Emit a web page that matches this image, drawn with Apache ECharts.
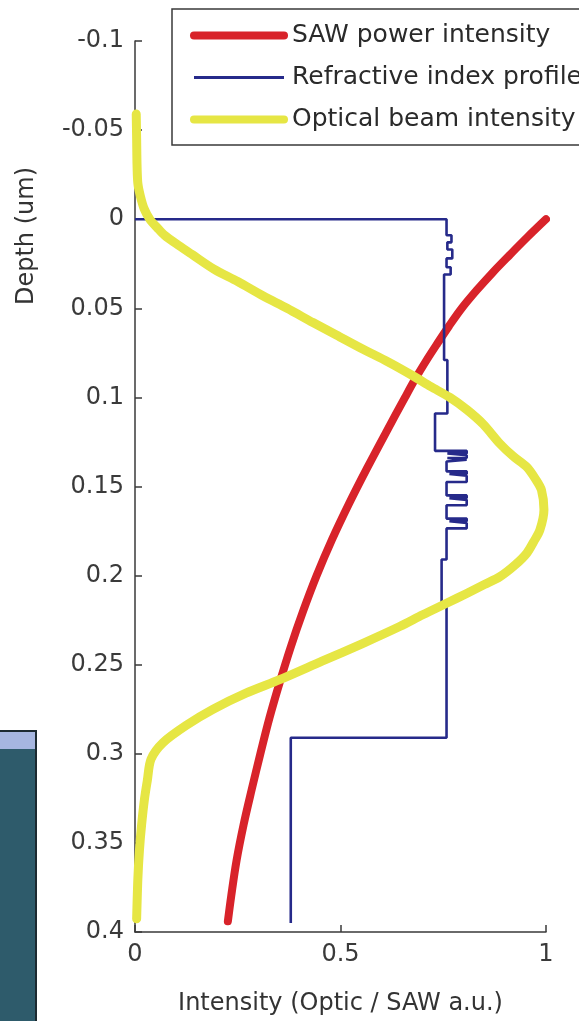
<!DOCTYPE html>
<html>
<head>
<meta charset="utf-8">
<title>Depth profile</title>
<script src="https://cdn.jsdelivr.net/npm/echarts@6/dist/echarts.min.js"></script>
<style>
  html, body { margin: 0; padding: 0; background: #ffffff; }
  #chart { width: 579px; height: 1021px; }
</style>
</head>
<body>
<div id="chart"></div>
<script>
// SAW power intensity versus depth (um)
const sawDepth = [0, 0.01, 0.02, 0.03, 0.04, 0.05, 0.06, 0.07, 0.08, 0.09, 0.10, 0.12, 0.14, 0.16, 0.18, 0.20, 0.22, 0.24, 0.26, 0.28, 0.30, 0.32, 0.34, 0.36, 0.38, 0.394];
const sawIntensity = [1.0, 0.955, 0.912, 0.870, 0.831, 0.795, 0.764, 0.735, 0.707, 0.681, 0.657, 0.610, 0.564, 0.520, 0.479, 0.442, 0.409, 0.379, 0.352, 0.327, 0.305, 0.284, 0.264, 0.247, 0.234, 0.226];

// Optical beam intensity versus depth (um)
const opticalDepth = [-0.059, -0.045, -0.03, -0.02, -0.013, -0.006, 0.0, 0.005, 0.009, 0.015, 0.02, 0.028, 0.035, 0.043, 0.05, 0.058, 0.065, 0.073, 0.08, 0.088, 0.094, 0.1, 0.107, 0.115, 0.126, 0.133, 0.139, 0.146, 0.152, 0.163, 0.1745, 0.181, 0.1875, 0.194, 0.2006, 0.205, 0.21, 0.2155, 0.222, 0.2286, 0.238, 0.248, 0.2584, 0.266, 0.275, 0.284, 0.2938, 0.303, 0.315, 0.3255, 0.34, 0.3535, 0.37, 0.3926];
const opticalIntensity = [0.003, 0.004, 0.005, 0.007, 0.013, 0.022, 0.036, 0.055, 0.072, 0.108, 0.140, 0.192, 0.25, 0.311, 0.37, 0.433, 0.49, 0.555, 0.615, 0.677, 0.72, 0.766, 0.808, 0.847, 0.888, 0.92, 0.953, 0.975, 0.989, 0.995, 0.985, 0.97, 0.953, 0.925, 0.888, 0.85, 0.807, 0.758, 0.70, 0.644, 0.555, 0.455, 0.352, 0.27, 0.19, 0.125, 0.068, 0.039, 0.03, 0.023, 0.016, 0.011, 0.007, 0.004];

// Refractive index profile: layer top depths (um) and the index level of each layer
const indexLayerTop = [
  0.000, 0.009, 0.013, 0.017, 0.022, 0.027, 0.031, 0.079, 0.109,
  0.130, 0.1315, 0.1325, 0.134, 0.135, 0.136,
  0.1415, 0.143, 0.144, 0.1475,
  0.155, 0.1565, 0.1575, 0.1605,
  0.168, 0.1695, 0.1705, 0.1735,
  0.191, 0.2175, 0.291
];
const indexLevel = [
  0.758, 0.770, 0.760, 0.772, 0.758, 0.768, 0.752, 0.760, 0.730,
  0.807, 0.760, 0.807, 0.760, 0.807, 0.758,
  0.807, 0.765, 0.807, 0.758,
  0.807, 0.765, 0.807, 0.758,
  0.807, 0.765, 0.807, 0.758,
  0.746, 0.758, 0.379
];
const indexBottom = 0.395;

// Axis ticks
const depthTickLabels = ['-0.1', '-0.05', '0', '0.05', '0.1', '0.15', '0.2', '0.25', '0.3', '0.35', '0.4'];
const intensityTickLabels = ['0', '0.5', '1'];

const seriesNames = ['SAW power intensity', 'Refractive index profile', 'Optical beam intensity'];

const FONT = 'DejaVu Sans';
const RED = '#d8232a', BLUE = '#262a8a', YELLOW = '#e6e644', INK = '#3a3a3a';

function pairs(xs, ys) {
  return xs.map((x, i) => [x, ys[i]]);
}

// step outline of the index profile, starting at the surface
function indexProfile() {
  const pts = [[0, indexLayerTop[0]]];
  for (let i = 0; i < indexLevel.length; i++) {
    const bottom = i + 1 < indexLayerTop.length ? indexLayerTop[i + 1] : indexBottom;
    pts.push([indexLevel[i], indexLayerTop[i]]);
    pts.push([indexLevel[i], bottom]);
  }
  return pts;
}

const chart = echarts.init(document.getElementById('chart'), null, { renderer: 'canvas' });

const yMin = -0.1, yStep = 0.05;
const xMin = 0, xStep = 0.5;

const hiddenMarker = { opacity: 0, borderWidth: 0 };

chart.setOption({
  animation: false,
  backgroundColor: '#ffffff',
  grid: { left: 135, right: 33, top: 41, bottom: 88, containLabel: false },
  xAxis: {
    type: 'value',
    min: 0, max: 1, interval: xStep,
    name: 'Intensity (Optic / SAW a.u.)',
    nameLocation: 'middle',
    nameGap: 60,
    nameTextStyle: { fontFamily: FONT, fontSize: 24, color: '#333' },
    axisLine: { show: true, onZero: false, lineStyle: { color: INK, width: 1.5 } },
    axisTick: { show: true, inside: true, length: 7, lineStyle: { color: INK, width: 1.5 } },
    axisLabel: {
      margin: 11, fontFamily: FONT, fontSize: 24, color: INK,
      formatter: v => intensityTickLabels[Math.round((v - xMin) / xStep)]
    },
    splitLine: { show: false }
  },
  yAxis: {
    type: 'value',
    inverse: true,
    min: yMin, max: 0.4, interval: yStep,
    axisLine: { show: true, onZero: false, lineStyle: { color: INK, width: 1.5 } },
    axisTick: { show: true, inside: true, length: 7, lineStyle: { color: INK, width: 1.5 } },
    axisLabel: {
      margin: 11, fontFamily: FONT, fontSize: 24, color: INK,
      formatter: v => depthTickLabels[Math.round((v - yMin) / yStep)]
    },
    splitLine: { show: false }
  },
  legend: {
    orient: 'vertical',
    left: 172, top: 9,
    padding: [14, 30, 13, 18],
    itemWidth: 90, itemHeight: 24, itemGap: 17,
    backgroundColor: '#ffffff',
    borderColor: INK, borderWidth: 1.5, borderRadius: 0,
    selectedMode: false,
    itemStyle: hiddenMarker,
    textStyle: { fontFamily: FONT, fontSize: 25, color: '#2a2a2a', padding: [0, 0, 0, 3] },
    data: [
      { name: seriesNames[0], itemStyle: hiddenMarker, lineStyle: { width: 8, color: RED } },
      { name: seriesNames[1], itemStyle: hiddenMarker, lineStyle: { width: 3, color: BLUE } },
      { name: seriesNames[2], itemStyle: hiddenMarker, lineStyle: { width: 8, color: YELLOW } }
    ]
  },
  graphic: [
    {
      type: 'text', x: 27, y: 236, rotation: Math.PI / 2,
      style: { text: 'Depth (um)', fontFamily: FONT, fontSize: 24, fill: '#333', align: 'center', verticalAlign: 'middle' }
    },
    {
      type: 'rect', shape: { x: -2, y: 731, width: 38, height: 300 },
      style: { fill: '#2e5b6b', stroke: '#1c2a31', lineWidth: 2 }
    },
    {
      type: 'rect', shape: { x: -1, y: 732, width: 36, height: 17 },
      style: { fill: '#a6b6e0' }
    }
  ],
  series: [
    {
      name: seriesNames[0], type: 'line', z: 2,
      data: pairs(sawIntensity, sawDepth),
      symbol: 'none', showSymbol: false, smooth: 0.35,
      lineStyle: { color: RED, width: 8, cap: 'round' },
      itemStyle: { color: RED }
    },
    {
      name: seriesNames[1], type: 'line', z: 3,
      data: indexProfile(),
      symbol: 'none', showSymbol: false,
      lineStyle: { color: BLUE, width: 2.6 },
      itemStyle: { color: BLUE }
    },
    {
      name: seriesNames[2], type: 'line', z: 4,
      data: pairs(opticalIntensity, opticalDepth),
      symbol: 'none', showSymbol: false, smooth: 0.3,
      lineStyle: { color: YELLOW, width: 9, cap: 'round', join: 'round' },
      itemStyle: { color: YELLOW }
    }
  ]
});
</script>
</body>
</html>
